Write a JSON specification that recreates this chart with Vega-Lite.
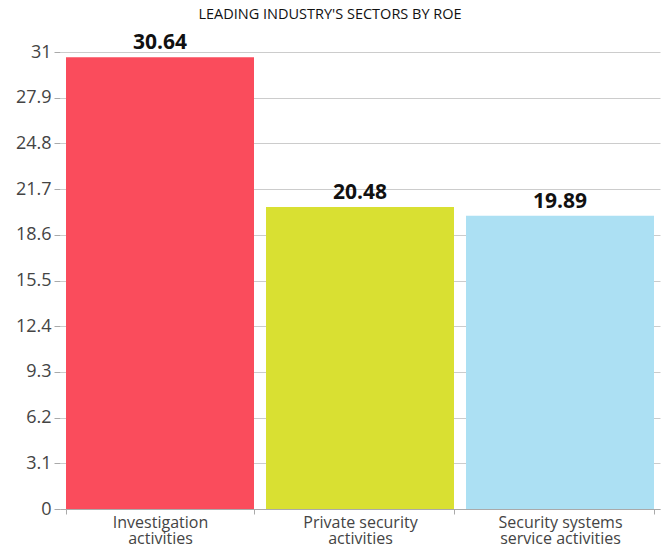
{
  "$schema": "https://vega.github.io/schema/vega-lite/v6.json",
  "autosize": "none",
  "width": 600,
  "height": 457,
  "padding": {"left": 60, "top": 52, "right": 3, "bottom": 37},
  "background": "white",
  "title": {
    "text": "LEADING INDUSTRY'S SECTORS BY ROE",
    "font": "Open Sans",
    "fontSize": 14.5,
    "fontWeight": "normal",
    "color": "#111",
    "anchor": "middle",
    "dx": -30,
    "offset": 10
  },
  "data": {
    "values": [
      {"sector": "Investigation activities", "roe": 30.64},
      {"sector": "Private security activities", "roe": 20.48},
      {"sector": "Security systems service activities", "roe": 19.89}
    ]
  },
  "encoding": {
    "x": {
      "field": "sector",
      "type": "nominal",
      "sort": null,
      "scale": {"paddingInner": 0.06, "paddingOuter": 0.03},
      "axis": {
        "title": null,
        "labelAngle": 0,
        "labelFont": "Open Sans",
        "labelFontSize": 16,
        "labelColor": "#444",
        "labelPadding": 0,
        "labelLineHeight": 16.5,
        "labelExpr": "datum.label == 'Investigation activities' ? ['Investigation','activities'] : datum.label == 'Private security activities' ? ['Private security','activities'] : datum.label == 'Security systems service activities' ? ['Security systems','service activities'] : ''",
        "tickBand": "extent",
        "tickColor": "#aaa",
        "tickSize": 5,
        "domainColor": "#aaa",
        "grid": false
      }
    },
    "y": {
      "field": "roe",
      "type": "quantitative",
      "scale": {"domain": [0, 31], "nice": false},
      "axis": {
        "title": null,
        "values": [0, 3.1, 6.2, 9.3, 12.4, 15.5, 18.6, 21.7, 24.8, 27.9, 31],
        "labelExpr": "datum.value == 0 ? '0' : datum.value == 31 ? '31' : format(datum.value, '.1f')",
        "labelFont": "Open Sans",
        "labelFontSize": 18,
        "labelColor": "#444",
        "labelPadding": 3,
        "domain": false,
        "tickColor": "#aaa",
        "tickSize": 6,
        "gridColor": "#ccc"
      }
    }
  },
  "layer": [
    {
      "mark": {"type": "bar"},
      "encoding": {
        "color": {
          "field": "sector",
          "type": "nominal",
          "scale": {
            "domain": ["Investigation activities", "Private security activities", "Security systems service activities"],
            "range": ["#FA4C5C", "#D9E032", "#ACE0F3"]
          },
          "legend": null
        }
      }
    },
    {
      "mark": {"type": "text", "baseline": "bottom", "dy": -4, "font": "Open Sans", "fontSize": 21, "fontWeight": "bold", "color": "#111"},
      "encoding": {
        "text": {"field": "roe", "type": "quantitative", "format": ".2f"}
      }
    }
  ],
  "config": {"view": {"stroke": null}}
}
